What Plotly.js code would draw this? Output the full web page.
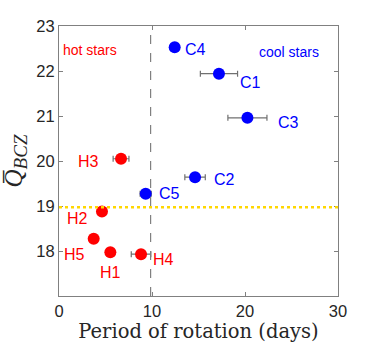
<!DOCTYPE html>
<html>
<head>
<meta charset="utf-8">
<script src="https://cdn.plot.ly/plotly-3.0.1.min.js"></script>
<style>body{margin:0;padding:0;background:#fff}</style>
</head>
<body>
<div id="plot" style="width:374px;height:351px;"></div>
<script>
// cool stars
var coolNames = ["C1", "C2", "C3", "C4", "C5"];
var coolPeriod = [17.2, 14.63, 20.26, 12.44, 9.32];
var coolPeriodErr = [2.0, 1.1, 2.1, 0, 0.6];
var coolQ = [21.94, 19.64, 20.96, 22.53, 19.27];

// hot stars
var hotNames = ["H1", "H2", "H3", "H4", "H5"];
var hotPeriod = [5.52, 4.62, 6.67, 8.82, 3.73];
var hotPeriodErr = [0, 0, 0.85, 1.05, 0];
var hotQ = [17.97, 18.88, 20.05, 17.93, 18.27];

var splitPeriod = 9.85;
var qLimit = 18.97;

// label offsets in pixels (dx right, dy up)
var coolShift = [[32, -9], [29, -2], [41, -5], [21, -2], [24, 0]];
var hotShift = [[0, -20], [-24, -7], [-33, -3], [22, -5], [-19, -16]];

function series(px, q, err, col) {
  return {
    x: px, y: q, type: "scatter", mode: "markers",
    marker: {color: col, size: 12},
    error_x: {type: "data", array: err, visible: true, color: "#707070", thickness: 1.2, width: 3},
    hoverinfo: "none"
  };
}

var data = [
  series(coolPeriod, coolQ, coolPeriodErr, "#0000ff"),
  series(hotPeriod, hotQ, hotPeriodErr, "#ff0000")
];

var annotations = [];
function addLabels(names, px, q, shift, col) {
  names.forEach(function(n, i) {
    annotations.push({
      x: px[i], y: q[i], text: n, showarrow: false,
      xshift: shift[i][0], yshift: shift[i][1],
      font: {family: "Liberation Sans, Arial", size: 16, color: col}
    });
  });
}
addLabels(coolNames, coolPeriod, coolQ, coolShift, "#0000ff");
addLabels(hotNames, hotPeriod, hotQ, hotShift, "#ff0000");
annotations.push({x: 3.37, y: 22.47, text: "hot stars", showarrow: false,
  font: {family: "Liberation Sans, Arial", size: 14, color: "#ff0000"}});
annotations.push({x: 24.7, y: 22.42, text: "cool stars", showarrow: false,
  font: {family: "Liberation Sans, Arial", size: 14, color: "#0000ff"}});

var axisStyle = {
  showgrid: false, zeroline: false, showline: true, mirror: "ticks",
  linecolor: "#808080", linewidth: 1,
  ticks: "inside", ticklen: 4, tickcolor: "#808080",
  tickfont: {family: "Liberation Sans, Arial", size: 16.5, color: "#262626"}
};

var layout = {
  width: 374, height: 351,
  margin: {l: 59, r: 36, t: 26, b: 55},
  paper_bgcolor: "#fff", plot_bgcolor: "#fff",
  showlegend: false,
  xaxis: Object.assign({}, axisStyle, {
    range: [0, 30], tickvals: [0, 10, 20, 30],
    title: {text: "Period of rotation (days)", standoff: 0,
      font: {family: "DejaVu Serif, Liberation Serif", size: 19.5, color: "#262626"}}
  }),
  yaxis: Object.assign({}, axisStyle, {
    range: [17, 23], tickvals: [18, 19, 20, 21, 22, 23],
    title: {text: "<i>Q\u0305</i><sub><i><span style=\"font-size:19px\">BCZ</span></i></sub>", standoff: 6,
      font: {family: "Liberation Serif, DejaVu Serif", size: 25, color: "#262626"}}
  }),
  shapes: [
    {type: "line", xref: "x", yref: "paper", x0: splitPeriod, x1: splitPeriod, y0: 0, y1: 1,
      line: {color: "#808080", width: 1.2, dash: "dash"}},
    {type: "line", xref: "paper", yref: "y", x0: 0, x1: 1, y0: qLimit, y1: qLimit,
      line: {color: "#ffd700", width: 2.5, dash: "dot"}}
  ],
  annotations: annotations
};

Plotly.newPlot("plot", data, layout, {displayModeBar: false, staticPlot: true});
</script>
</body>
</html>
